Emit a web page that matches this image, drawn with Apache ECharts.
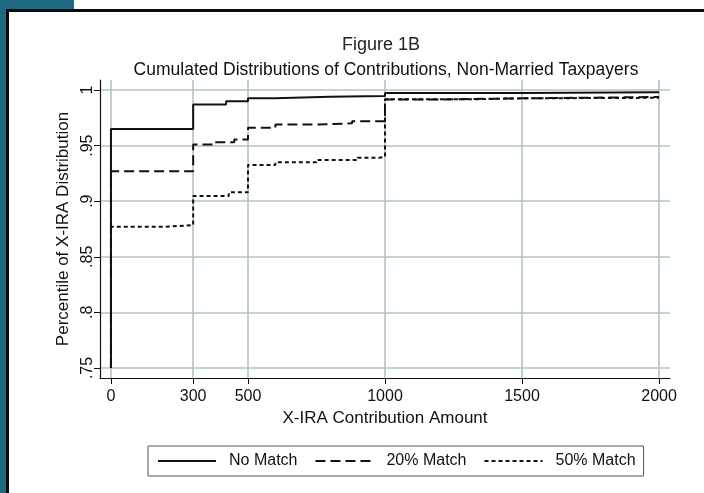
<!DOCTYPE html>
<html>
<head>
<meta charset="utf-8">
<script src="https://cdn.jsdelivr.net/npm/echarts@6/dist/echarts.min.js"></script>
<style>
html,body{margin:0;padding:0;background:#fff;}
#c{width:704px;height:493px;}
</style>
</head>
<body>
<div id="c"></div>
<script>
// ---- data ----
var xTicks = [0, 300, 500, 1000, 1500, 2000];
var yTicks = [0.75, 0.8, 0.85, 0.9, 0.95, 1];
var seriesNames = ['No Match', '20% Match', '50% Match'];

var noMatchX = [0, 0, 300, 420, 500, 600, 800, 1000, 1500, 2000];
var noMatchY = [0.75, 0.965, 0.987, 0.990, 0.9925, 0.994, 0.9947, 0.9972, 0.998, 0.998];

var match20X = [0, 0, 300, 380, 450, 500, 600, 750, 880, 1000, 1200, 1500, 2000];
var match20Y = [0.75, 0.927, 0.951, 0.953, 0.9555, 0.966, 0.969, 0.970, 0.972, 0.9915, 0.9925, 0.9937, 0.9937];

var match50X = [0, 0, 200, 300, 430, 500, 600, 750, 900, 980, 1000, 1300, 1500, 2000];
var match50Y = [0.75, 0.877, 0.8785, 0.9047, 0.908, 0.9326, 0.935, 0.937, 0.939, 0.940, 0.9916, 0.9925, 0.993, 0.9935];

function pairs(xs, ys) { return xs.map(function (x, i) { return [x, ys[i]]; }); }

var FONT = 'Liberation Sans, Arial, sans-serif';
var GRID = '#b3c4c1';

var chart = echarts.init(document.getElementById('c'), null, {renderer: 'canvas'});
chart.setOption({
  animation: false,
  backgroundColor: '#fff',
  title: [
    {text: 'Figure 1B', left: 376, top: 31, textAlign: 'center',
     textStyle: {fontFamily: FONT, fontSize: 18, fontWeight: 'normal', color: '#222'}},
    {text: 'Cumulated Distributions of Contributions, Non-Married Taxpayers', left: 381, top: 56, textAlign: 'center',
     textStyle: {fontFamily: FONT, fontSize: 17.5, fontWeight: 'normal', color: '#111'}}
  ],
  grid: {left: 100, top: 80, right: 34, bottom: 115, containLabel: false},
  legend: {
    left: 148, top: 446,
    orient: 'horizontal',
    itemWidth: 58, itemHeight: 10, itemGap: 17,
    padding: [7, 8, 7, 9],
    borderColor: '#555', borderWidth: 1,
    itemStyle: {opacity: 0},
    textStyle: {fontFamily: FONT, fontSize: 16, color: '#111', padding: [0, 0, 0, 8]},
    data: seriesNames
  },
  xAxis: {
    type: 'value', min: -40, max: 2040,
    name: 'X-IRA Contribution Amount', nameLocation: 'middle', nameGap: 18,
    nameTextStyle: {fontFamily: FONT, fontSize: 17, color: '#111'},
    axisLine: {show: true, onZero: false, lineStyle: {color: '#111', width: 1.2}},
    axisTick: {show: true, length: 6, customValues: xTicks, lineStyle: {color: '#111'}},
    axisLabel: {customValues: xTicks, fontFamily: FONT, fontSize: 16, color: '#111', margin: 11,
      formatter: function (v) { return String(v); }},
    splitLine: {show: true, lineStyle: {color: GRID, width: 1.6}}
  },
  yAxis: {
    type: 'value', min: 0.741, max: 1.009,
    name: 'Percentile of X-IRA Distribution', nameLocation: 'middle', nameGap: 22, nameRotate: 90,
    nameTextStyle: {fontFamily: FONT, fontSize: 17, color: '#111'},
    axisLine: {show: true, onZero: false, lineStyle: {color: '#111', width: 1.2}},
    axisTick: {show: true, length: 6, customValues: yTicks, lineStyle: {color: '#111'}},
    axisLabel: {customValues: yTicks, rotate: 90, fontFamily: FONT, fontSize: 16, color: '#111', margin: 4,
      formatter: function (v) { var s = String(Math.round(v * 100) / 100); return s.replace(/^0/, ''); }},
    splitLine: {show: true, lineStyle: {color: GRID, width: 1.6}}
  },
  series: [
    {name: seriesNames[0], type: 'line', step: 'end', symbol: 'none', data: pairs(noMatchX, noMatchY),
     lineStyle: {color: '#111', width: 2, type: 'solid'}, itemStyle: {color: '#111'}, z: 3},
    {name: seriesNames[1], type: 'line', step: 'end', symbol: 'none', data: pairs(match20X, match20Y),
     lineStyle: {color: '#111', width: 2, type: [10, 5]}, itemStyle: {color: '#111'}, z: 2},
    {name: seriesNames[2], type: 'line', step: 'end', symbol: 'none', data: pairs(match50X, match50Y),
     lineStyle: {color: '#111', width: 2, type: [4, 3]}, itemStyle: {color: '#111'}, z: 2}
  ],
  graphic: [
    {type: 'rect', shape: {x: 0, y: 0, width: 74, height: 9}, style: {fill: '#1f6a80'}, silent: true},
    {type: 'rect', shape: {x: 0, y: 0, width: 6, height: 493}, style: {fill: '#1f6a80'}, silent: true},
    {type: 'rect', shape: {x: 6, y: 9, width: 698, height: 3}, style: {fill: '#0a0a0a'}, silent: true},
    {type: 'rect', shape: {x: 6, y: 9, width: 3, height: 484}, style: {fill: '#0a0a0a'}, silent: true}
  ]
});
</script>
</body>
</html>
